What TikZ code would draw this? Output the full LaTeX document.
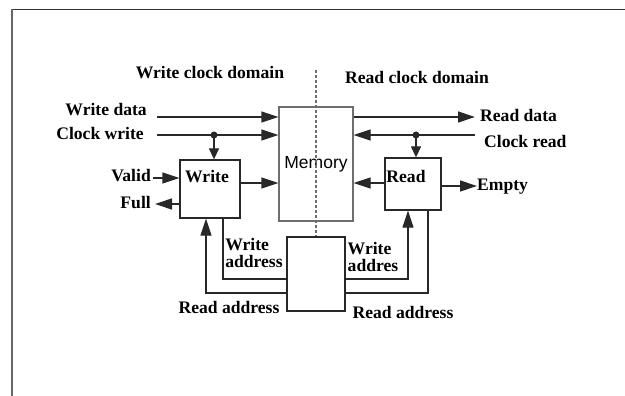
\documentclass[tikz,border=0pt]{standalone}
\usepackage{fontspec}
\setmainfont{Liberation Serif}
\setsansfont{Liberation Sans}
\usetikzlibrary{arrows.meta}

\definecolor{fifoLine}{RGB}{40,40,40}
\definecolor{fifoGray}{RGB}{110,110,110}

\begin{document}
\begin{tikzpicture}[x=1pt, y=-1pt,
  font=\fontsize{17.6}{19}\selectfont\bfseries,
  box/.style={draw=fifoLine, line width=1.3pt, inner sep=0pt},
  wire/.style={fifoLine, line width=1.3pt},
  sig/.style={wire, -{Triangle[length=17pt,width=11pt]}},
  tap/.style={wire, -{Triangle[length=11pt,width=10pt]}},
  lbl/.style={inner sep=0pt, align=left}]
\useasboundingbox (0,0) rectangle (625,396);
%% page frame (top and left edge only)
\draw[black!80, line width=1.5pt] (12,9.5) -- (625,9.5);
\draw[black!60, line width=1.5pt] (12,9.5) -- (12,396);
%% blocks
\node[box, draw=fifoGray, minimum width=74pt, minimum height=114pt,
      font=\fontsize{17.5}{19}\selectfont\sffamily] (mem) at (316,164) {Memory};
\node[box, minimum width=60pt, minimum height=58pt] (wbox) at (210,189) {};
\node[box, minimum width=56pt, minimum height=52pt] (rbox) at (413,184) {};
\node[box, minimum width=58pt, minimum height=74pt] (abox) at (316,274) {};
\node[lbl] (wtext) at (207,177) {Write};
\node[lbl] (rtext) at (406,176) {Read};
%% clock domains
\node[lbl] (wdom) at (210,73) {Write clock domain};
\node[lbl] (rdom) at (417,77) {Read clock domain};
\coordinate (dtop) at (316,70);
\draw[fifoGray, line width=1.2pt, dash pattern=on 3pt off 2pt] (dtop) -- (abox.north);
%% write side
\coordinate (wd) at (157,117);
\coordinate (cw) at (157,135);
\coordinate (cwdot) at (214,135);
\coordinate (vin) at (153,178);
\coordinate (fout) at (155,204);
\node[lbl, anchor=east] (wdata) at (147,110) {Write data};
\node[lbl, anchor=east] (cwrite) at (144,133) {Clock write};
\node[lbl, anchor=east] (valid) at (151,176) {Valid};
\node[lbl, anchor=east] (full) at (151,203) {Full};
\draw[sig] (wd) -- (wd -| mem.west);
\draw[sig] (cw) -- (cw -| mem.west);
\fill[fifoLine] (cwdot) circle (3.5pt);
\draw[tap] (cwdot) -- (cwdot |- wbox.north);
\draw[sig] (vin) -- (vin -| wbox.west);
\draw[sig] (fout -| wbox.west) -- (fout);
\draw[sig] (wbox.east |- 0,183) -- (mem.west |- 0,183);
%% read side
\coordinate (rd) at (475,117);
\coordinate (cr) at (475,135);
\coordinate (crdot) at (416,135);
\coordinate (eout) at (477,186);
\node[lbl, anchor=west] (rdata) at (480,115) {Read data};
\node[lbl, anchor=west] (cread) at (484,141) {Clock read};
\node[lbl, anchor=west] (empty) at (477,187) {Empty};
\draw[sig] (rd -| mem.east) -- (rd);
\draw[sig] (cr) -- (cr -| mem.east);
\fill[fifoLine] (crdot) circle (3.5pt);
\draw[tap] (crdot) -- (crdot |- rbox.north);
\draw[sig] (rbox.west |- 0,183) -- (mem.east |- 0,183);
\draw[sig] (eout -| rbox.east) -- (eout);
%% address paths
\draw[wire] (wbox.south -| 223,0) |- (abox.west |- 0,279);
\draw[sig] (abox.west |- 0,293) -| (wbox.south -| 206,0);
\draw[sig] (abox.east |- 0,279) -| (rbox.south -| 408,0);
\draw[wire] (rbox.south -| 428,0) |- (abox.east |- 0,293);
\node[lbl] (waddl) at (254,253) {Write\\[-2pt]address};
\node[lbl] (waddr) at (373,257) {Write\\[-2pt]addres};
\node[lbl] (raddl) at (229,307) {Read address};
\node[lbl] (raddr) at (403,312) {Read address};
\end{tikzpicture}
\end{document}
